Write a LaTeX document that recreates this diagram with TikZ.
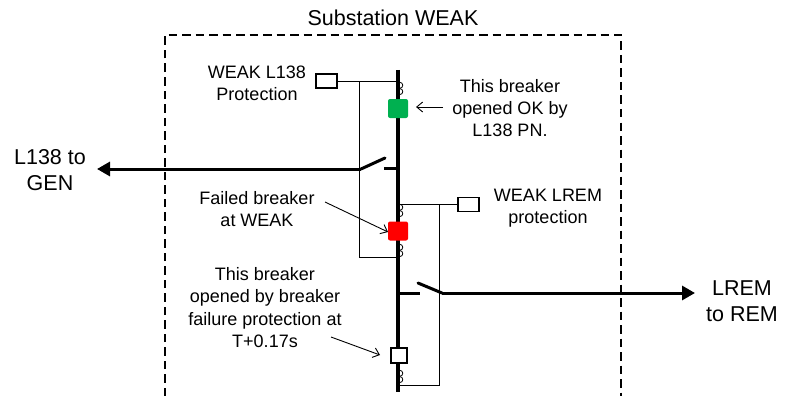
\documentclass[tikz,border=0pt]{standalone}
\usepackage{fontspec}
\setmainfont{Liberation Sans}
\usetikzlibrary{arrows.meta}
\definecolor{brkgreen}{HTML}{00B050}
\definecolor{brkred}{HTML}{FF0000}
\tikzset{
  busline/.style={line width=3.5pt},
  feeder/.style={line width=3pt},
  wire/.style={line width=0.9pt},
  border/.style={line width=1.2pt, dash pattern=on 8.5pt off 5pt},
  protbox/.style={draw, line width=1.6pt, fill=white, minimum width=21pt, minimum height=14pt, inner sep=0pt},
  brk/.style={rounded corners=2pt, minimum width=20pt, minimum height=19pt, inner sep=0pt},
  lbl/.style={font=\fontsize{18}{22.3}\selectfont, align=center, inner sep=0pt},
  biglbl/.style={font=\fontsize{21.5}{26}\selectfont, align=center, inner sep=0pt},
  pointer/.style={line width=0.9pt, -{Straight Barb[length=6pt,width=10pt]}},
  bigarrow/.style={feeder, -{Triangle[length=13pt,width=14pt]}},
  ctloop/.style={line width=0.8pt}
}
\newcommand{\ctsym}[2]{%
  \draw[ctloop] (#1+1.8,#2+3.3) circle[radius=3pt];
  \draw[ctloop] (#1+1.8,#2+9.6) circle[radius=3pt];
}
\begin{document}
\begin{tikzpicture}[x=1pt,y=-1pt]
\useasboundingbox (0,0) rectangle (787,396);

% substation border
\coordinate (bBL) at (165,396);
\coordinate (bTL) at (165,35);
\coordinate (bTR) at (621,35);
\coordinate (bBR) at (621,396);
\draw[border] (bBL) -- (bTL) -- (bTR) -- (bBR);
\node[biglbl] (title) at (393,18) {Substation WEAK};

% bus
\coordinate (busTop) at (398,70);
\coordinate (busBot) at (398,392);
\draw[busline] (busTop) -- (busBot);

% CTs
\ctsym{398}{82}
\ctsym{398}{204}
\ctsym{398}{244}
\ctsym{398}{370}

% protection L138
\node[protbox] (p1) at (326.5,81) {};
\coordinate (p1bus) at (398,81);
\coordinate (p1a) at (359,81);
\coordinate (p1b) at (359,257);
\coordinate (p1c) at (398,257);
\draw[wire] (p1.east) -- (p1bus);
\draw[wire] (p1a) -- (p1b) -- (p1c);
\node[lbl] (p1t) at (257,83) {WEAK L138\\Protection};

% protection LREM
\node[protbox] (p2) at (468.5,204.5) {};
\coordinate (p2bus) at (398,204.5);
\coordinate (p2a) at (439,204.5);
\coordinate (p2b) at (439,385);
\coordinate (p2c) at (398,385);
\draw[wire] (p2bus) -- (p2.west);
\draw[wire] (p2a) -- (p2b) -- (p2c);
\node[lbl] (p2t) at (548,208.5) {WEAK LREM\\protection};

% left feeder with open switch
\coordinate (s1bus) at (398,168.5);
\coordinate (s1stub) at (384,168.5);
\coordinate (s1pivot) at (361,169);
\coordinate (s1blade) at (385,158);
\coordinate (s1end) at (97,169);
\draw[feeder] (s1bus) -- (s1stub);
\draw[feeder, line cap=round] (s1pivot) -- (s1blade);
\draw[bigarrow] (s1pivot) -- (s1end);
\node[biglbl] (l1t) at (50,170) {L138 to\\GEN};

% right feeder with open switch
\coordinate (s2bus) at (398,293);
\coordinate (s2stub) at (420,293);
\coordinate (s2blade) at (418,283);
\coordinate (s2pivot) at (442,293);
\coordinate (s2end) at (695,293);
\draw[feeder] (s2bus) -- (s2stub);
\draw[feeder, line cap=round] (s2blade) -- (s2pivot);
\draw[bigarrow] (s2pivot) -- (s2end);
\node[biglbl] (l2t) at (742,301) {LREM\\to REM};

% breakers
\node[brk, fill=brkgreen] (cbg) at (398,108.5) {};
\node[brk, fill=brkred] (cbr) at (398,231) {};
\node[draw, line width=2.2pt, fill=white, minimum width=16pt, minimum height=15pt, inner sep=0pt] (cbw) at (399,355.5) {};

% annotations
\node[lbl] (t1) at (510,108) {This breaker\\opened OK by\\L138 PN.};
\coordinate (t1s) at (443,107);
\coordinate (t1e) at (416,107);
\draw[pointer] (t1s) -- (t1e);

\node[lbl] (t2) at (257,209) {Failed breaker\\at WEAK};
\coordinate (t2s) at (325,202);
\coordinate (t2e) at (388,232);
\draw[pointer] (t2s) -- (t2e);

\node[lbl] (t3) at (265,307.5) {This breaker\\opened by breaker\\failure protection at\\T+0.17s};
\coordinate (t3s) at (331,337);
\coordinate (t3e) at (380,355);
\draw[pointer] (t3s) -- (t3e);
\end{tikzpicture}
\end{document}
